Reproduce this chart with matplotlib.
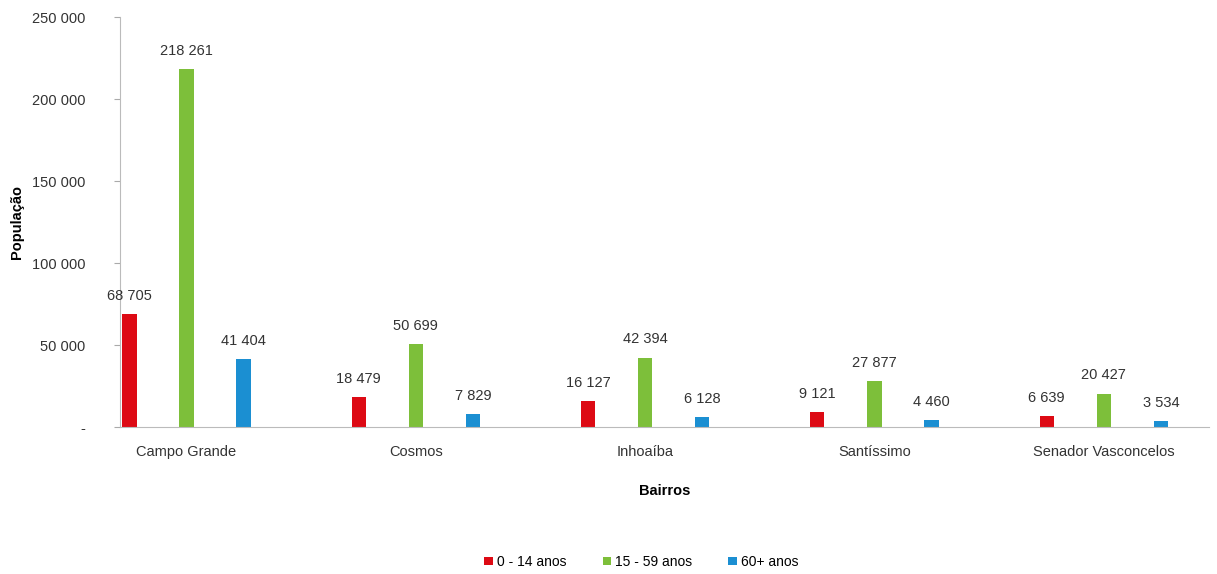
import numpy as np
import matplotlib.pyplot as plt
from matplotlib.ticker import FuncFormatter

plt.rcParams['font.family'] = ['Liberation Sans', 'DejaVu Sans']

bairros = ['Campo Grande', 'Cosmos', 'Inhoaíba', 'Santíssimo', 'Senador Vasconcelos']
faixas = ['0 - 14 anos', '15 - 59 anos', '60+ anos']
pop_0_14 = [68705, 18479, 16127, 9121, 6639]
pop_15_59 = [218261, 50699, 42394, 27877, 20427]
pop_60 = [41404, 7829, 6128, 4460, 3534]
cores = ['#dd0a14', '#7dbf3a', '#1b8fd2']

def fmt(v, pos=None):
    if v == 0:
        return '-'
    return f'{int(v):,}'.replace(',', ' ')

fig = plt.figure(figsize=(12.17, 5.74), dpi=100)
ax = fig.add_axes([0.0986, 0.256, 0.895, 0.714])

x = np.arange(len(bairros))
offsets = [-0.249, 0, 0.249]
w = 0.062
for serie, off, cor, nome in zip([pop_0_14, pop_15_59, pop_60], offsets, cores, faixas):
    ax.bar(x + off, serie, width=w, color=cor, label=nome)
    for xi, v in zip(x, serie):
        ax.annotate(fmt(v), (xi + off, v), xytext=(0, 8), textcoords='offset points',
                    ha='center', va='bottom', fontsize=10.5, color='#333333')

ax.set_xlim(-0.29, 4.46)
ax.set_ylim(0, 250000)
ax.set_yticks(np.arange(0, 250001, 50000))
ax.yaxis.set_major_formatter(FuncFormatter(fmt))
ax.set_xticks(x)
ax.set_xticklabels(bairros)
ax.tick_params(axis='x', length=0, pad=13, labelsize=10.5, colors='#333333')
ax.tick_params(axis='y', length=4, color='#aaaaaa', labelsize=10.5, colors='#333333', pad=21)
for s in ['top', 'right']:
    ax.spines[s].set_visible(False)
ax.spines['left'].set_color('#bbbbbb')
ax.spines['bottom'].set_color('#bbbbbb')

ax.set_ylabel('População', fontsize=10.5, fontweight='bold')
ax.yaxis.set_label_coords(-0.088, 0.5)
ax.set_xlabel('Bairros', fontsize=10.5, fontweight='bold', labelpad=18)

fig.legend(loc='center', bbox_to_anchor=(0.527, 0.021), ncol=3, frameon=False,
           fontsize=10, handlelength=0.6, handleheight=0.6, handletextpad=0.3,
           columnspacing=2.6)

fig.savefig('out.png', dpi=100)
